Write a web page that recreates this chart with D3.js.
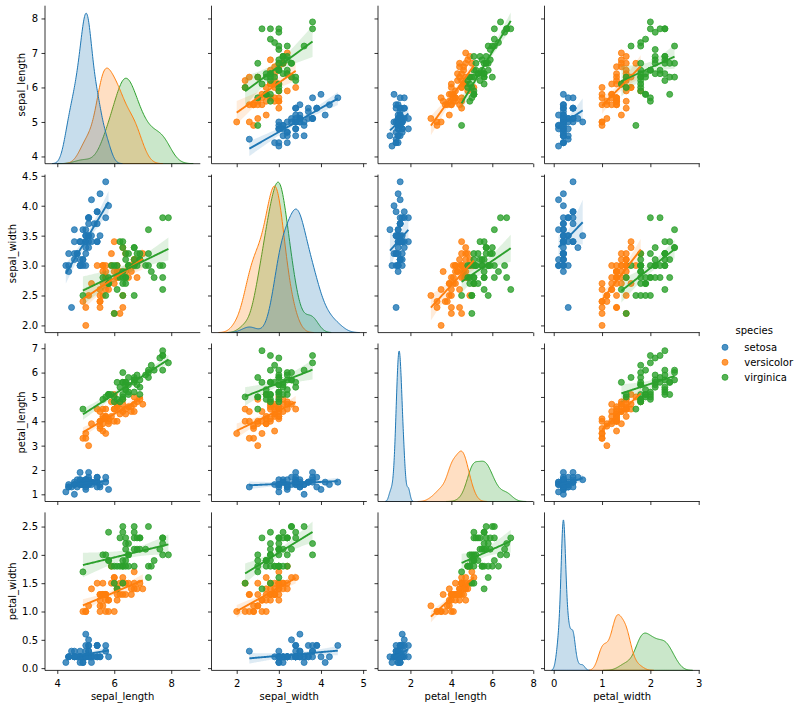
<!DOCTYPE html>
<html><head><meta charset="utf-8">
<script src="https://cdn.jsdelivr.net/npm/d3@7"></script>
<style>body{margin:0;background:#fff}svg{display:block}text{font-family:"DejaVu Sans",sans-serif;fill:#000}</style>
</head><body><svg id="c" width="801" height="709"></svg>
<script>
const variables = ["sepal_length","sepal_width","petal_length","petal_width"];
const speciesNames = ["setosa","versicolor","virginica"];
const speciesCounts = [50,50,50];
const palette = ["#1f77b4","#ff7f0e","#2ca02c"];

const sepal_length = [5.1,4.9,4.7,4.6,5.0,5.4,4.6,5.0,4.4,4.9,5.4,4.8,4.8,4.3,5.8,5.7,5.4,5.1,5.7,5.1,5.4,5.1,4.6,5.1,4.8,5.0,5.0,5.2,5.2,4.7,4.8,5.4,5.2,5.5,4.9,5.0,5.5,4.9,4.4,5.1,5.0,4.5,4.4,5.0,5.1,4.8,5.1,4.6,5.3,5.0,
7.0,6.4,6.9,5.5,6.5,5.7,6.3,4.9,6.6,5.2,5.0,5.9,6.0,6.1,5.6,6.7,5.6,5.8,6.2,5.6,5.9,6.1,6.3,6.1,6.4,6.6,6.8,6.7,6.0,5.7,5.5,5.5,5.8,6.0,5.4,6.0,6.7,6.3,5.6,5.5,5.5,6.1,5.8,5.0,5.6,5.7,5.7,6.2,5.1,5.7,
6.3,5.8,7.1,6.3,6.5,7.6,4.9,7.3,6.7,7.2,6.5,6.4,6.8,5.7,5.8,6.4,6.5,7.7,7.7,6.0,6.9,5.6,7.7,6.3,6.7,7.2,6.2,6.1,6.4,7.2,7.4,7.9,6.4,6.3,6.1,7.7,6.3,6.4,6.0,6.9,6.7,6.9,5.8,6.8,6.7,6.7,6.3,6.5,6.2,5.9];
const sepal_width = [3.5,3.0,3.2,3.1,3.6,3.9,3.4,3.4,2.9,3.1,3.7,3.4,3.0,3.0,4.0,4.4,3.9,3.5,3.8,3.8,3.4,3.7,3.6,3.3,3.4,3.0,3.4,3.5,3.4,3.2,3.1,3.4,4.1,4.2,3.1,3.2,3.5,3.6,3.0,3.4,3.5,2.3,3.2,3.5,3.8,3.0,3.8,3.2,3.7,3.3,
3.2,3.2,3.1,2.3,2.8,2.8,3.3,2.4,2.9,2.7,2.0,3.0,2.2,2.9,2.9,3.1,3.0,2.7,2.2,2.5,3.2,2.8,2.5,2.8,2.9,3.0,2.8,3.0,2.9,2.6,2.4,2.4,2.7,2.7,3.0,3.4,3.1,2.3,3.0,2.5,2.6,3.0,2.6,2.3,2.7,3.0,2.9,2.9,2.5,2.8,
3.3,2.7,3.0,2.9,3.0,3.0,2.5,2.9,2.5,3.6,3.2,2.7,3.0,2.5,2.8,3.2,3.0,3.8,2.6,2.2,3.2,2.8,2.8,2.7,3.3,3.2,2.8,3.0,2.8,3.0,2.8,3.8,2.8,2.8,2.6,3.0,3.4,3.1,3.0,3.1,3.1,3.1,2.7,3.2,3.3,3.0,2.5,3.0,3.4,3.0];
const petal_length = [1.4,1.4,1.3,1.5,1.4,1.7,1.4,1.5,1.4,1.5,1.5,1.6,1.4,1.1,1.2,1.5,1.3,1.4,1.7,1.5,1.7,1.5,1.0,1.7,1.9,1.6,1.6,1.5,1.4,1.6,1.6,1.5,1.5,1.4,1.5,1.2,1.3,1.4,1.3,1.5,1.3,1.3,1.3,1.6,1.9,1.4,1.6,1.4,1.5,1.4,
4.7,4.5,4.9,4.0,4.6,4.5,4.7,3.3,4.6,3.9,3.5,4.2,4.0,4.7,3.6,4.4,4.5,4.1,4.5,3.9,4.8,4.0,4.9,4.7,4.3,4.4,4.8,5.0,4.5,3.5,3.8,3.7,3.9,5.1,4.5,4.5,4.7,4.4,4.1,4.0,4.4,4.6,4.0,3.3,4.2,4.2,4.2,4.3,3.0,4.1,
6.0,5.1,5.9,5.6,5.8,6.6,4.5,6.3,5.8,6.1,5.1,5.3,5.5,5.0,5.1,5.3,5.5,6.7,6.9,5.0,5.7,4.9,6.7,4.9,5.7,6.0,4.8,4.9,5.6,5.8,6.1,6.4,5.6,5.1,5.6,6.1,5.6,5.5,4.8,5.4,5.6,5.1,5.1,5.9,5.7,5.2,5.0,5.2,5.4,5.1];
const petal_width = [0.2,0.2,0.2,0.2,0.2,0.4,0.3,0.2,0.2,0.1,0.2,0.2,0.1,0.1,0.2,0.4,0.4,0.3,0.3,0.3,0.2,0.4,0.2,0.5,0.2,0.2,0.4,0.2,0.2,0.2,0.2,0.4,0.1,0.2,0.2,0.2,0.2,0.1,0.2,0.2,0.3,0.3,0.2,0.6,0.4,0.3,0.2,0.2,0.2,0.2,
1.4,1.5,1.5,1.3,1.5,1.3,1.6,1.0,1.3,1.4,1.0,1.5,1.0,1.4,1.3,1.4,1.5,1.0,1.5,1.1,1.8,1.3,1.5,1.2,1.3,1.4,1.4,1.7,1.5,1.0,1.1,1.0,1.2,1.6,1.5,1.6,1.5,1.3,1.3,1.3,1.2,1.4,1.2,1.0,1.3,1.2,1.3,1.3,1.1,1.3,
2.5,1.9,2.1,1.8,2.2,2.1,1.7,1.8,1.8,2.5,2.0,1.9,2.1,2.0,2.4,2.3,1.8,2.2,2.3,1.5,2.3,2.0,2.0,1.8,2.1,1.8,1.8,1.8,2.1,1.6,1.9,2.0,2.2,1.5,1.4,2.3,2.4,1.8,1.8,2.1,2.4,2.3,1.9,2.3,2.5,2.3,1.9,2.0,2.3,1.8];

const xTicks = [[4,6,8],[2,3,4,5],[2,4,6,8],[0,1,2,3]];
const yTicks = [[4,5,6,7,8],[2.0,2.5,3.0,3.5,4.0,4.5],[1,2,3,4,5,6,7],[0.0,0.5,1.0,1.5,2.0,2.5]];
const yTickFormats = ["d",".1f","d",".1f"];
const rowDomains = [[3.79,8.37],[1.88,4.52],[0.705,7.195],[-0.04,2.75]];

const columns = [sepal_length, sepal_width, petal_length, petal_width];
const species = [];
speciesCounts.forEach((c,k)=>{for(let i=0;i<c;i++) species.push(k);});
const N = species.length;

// layout
const colLeft = j => 45 + j*166.5, cellW = 155.3;
const rowTop = i => 5.7 + i*168.9, cellH = 158;

const svg = d3.select("#c");

function groupVals(v,k){ return columns[v].filter((_,i)=>species[i]===k); }

function kde(vals){
  const n = vals.length, sd = d3.deviation(vals);
  const bw = sd*Math.pow(n,-0.2);
  const lo = d3.min(vals)-3*bw, hi = d3.max(vals)+3*bw;
  const pts = [];
  for(let g=0; g<200; g++){
    const x = lo+(hi-lo)*g/199; let s=0;
    for(const v of vals){const z=(x-v)/bw; s+=Math.exp(-0.5*z*z);}
    pts.push([x, (n/N)*s/(n*bw*Math.sqrt(2*Math.PI))]);
  }
  return {pts, lo, hi};
}

const kdes = variables.map((_,v)=>speciesNames.map((_,k)=>kde(groupVals(v,k))));
const xScales = variables.map((_,v)=>{
  const lo = d3.min(kdes[v],d=>d.lo), hi = d3.max(kdes[v],d=>d.hi), p=(hi-lo)*0.05;
  return d3.scaleLinear().domain([lo-p,hi+p]).range([colLeft(v), colLeft(v)+cellW]);
});
const yScales = variables.map((_,v)=>d3.scaleLinear().domain(rowDomains[v]).range([rowTop(v)+cellH, rowTop(v)]));

function regression(xs, ys){
  const n=xs.length, xb=d3.mean(xs), yb=d3.mean(ys);
  let sxx=0,sxy=0; xs.forEach((x,i)=>{sxx+=(x-xb)**2; sxy+=(x-xb)*(ys[i]-yb);});
  const b=sxy/sxx, a=yb-b*xb;
  let sse=0; xs.forEach((x,i)=>{sse+=(ys[i]-a-b*x)**2;});
  const s=Math.sqrt(sse/(n-2)), t=2.0106;
  const lo=d3.min(xs), hi=d3.max(xs), out=[];
  for(let g=0; g<100; g++){
    const x=lo+(hi-lo)*g/99, y=a+b*x, se=s*Math.sqrt(1/n+(x-xb)**2/sxx);
    out.push({x, y, y0:y-t*se, y1:y+t*se});
  }
  return out;
}

const defs = svg.append("defs");
const yTickLabelWidth = [0,0,0,0];

for(let i=0;i<4;i++){
  for(let j=0;j<4;j++){
    const xs = xScales[j], ys = yScales[i];
    const g = svg.append("g");
    const cid = `clip${i}${j}`;
    defs.append("clipPath").attr("id",cid).append("rect")
      .attr("x",colLeft(j)).attr("y",rowTop(i)).attr("width",cellW).attr("height",cellH);
    const plot = g.append("g").attr("clip-path",`url(#${cid})`);
    if(i===j){
      const maxD = d3.max(kdes[j], d=>d3.max(d.pts,p=>p[1]));
      const dy = d3.scaleLinear().domain([0,maxD*1.05]).range([rowTop(i)+cellH, rowTop(i)]);
      const area = d3.area().x(p=>xs(p[0])).y0(dy(0)).y1(p=>dy(p[1]));
      for(let k=2;k>=0;k--){
        plot.append("path").attr("d",area(kdes[j][k].pts)+"Z")
          .attr("fill",palette[k]).attr("fill-opacity",0.25)
          .attr("stroke",palette[k]).attr("stroke-width",1).attr("stroke-linejoin","round");
      }
    } else {
      const regs=[];
      for(let k=0;k<3;k++){
        const gx = groupVals(j,k), gy = groupVals(i,k);
        plot.append("g").selectAll("circle").data(gx.map((x,n)=>[x,gy[n]])).join("circle")
          .attr("cx",d=>xs(d[0])).attr("cy",d=>ys(d[1])).attr("r",3)
          .attr("fill",palette[k]).attr("fill-opacity",0.8)
          .attr("stroke",palette[k]).attr("stroke-opacity",0.8).attr("stroke-width",1);
        const r = regression(gx, gy); regs.push(r);
        plot.append("path").attr("d", d3.area().x(d=>xs(d.x)).y0(d=>ys(d.y0)).y1(d=>ys(d.y1))(r))
          .attr("fill",palette[k]).attr("fill-opacity",0.15).attr("stroke","none");
      }
      regs.forEach((r,k)=>{
        plot.append("path").attr("d", d3.line().x(d=>xs(d.x)).y(d=>ys(d.y))(r))
          .attr("fill","none").attr("stroke",palette[k]).attr("stroke-width",1.9);
      });
    }
    const xAxis = d3.axisBottom(xs).tickValues(xTicks[j]).tickSizeOuter(0).tickSizeInner(3.5).tickPadding(3.5)
      .tickFormat(i===3 ? d3.format("d") : "");
    const ax = g.append("g").attr("transform",`translate(0,${rowTop(i)+cellH})`).call(xAxis);
    const yAxis = d3.axisLeft(ys).tickValues(yTicks[i]).tickSizeOuter(0).tickSizeInner(3.5).tickPadding(3.5)
      .tickFormat(j===0 ? d3.format(yTickFormats[i]) : "");
    const ay = g.append("g").attr("transform",`translate(${colLeft(j)},0)`).call(yAxis);
    [ax,ay].forEach(a=>{
      a.select(".domain").attr("stroke","#000").attr("stroke-width",0.8);
      a.selectAll(".tick line").attr("stroke","#000").attr("stroke-width",0.8);
      a.selectAll(".tick text").attr("font-size",10).attr("font-family","DejaVu Sans").attr("fill","#000");
    });
    ax.select(".domain").attr("d",`M${colLeft(j)},0H${colLeft(j)+cellW}`);
    ay.select(".domain").attr("d",`M0,${rowTop(i)}V${rowTop(i)+cellH}`);
    ax.selectAll(".tick text").attr("dy",null).attr("y",16.2).attr("dominant-baseline","auto");
    ay.selectAll(".tick text").attr("dy","0.34em");
    if(j===0){
      ay.selectAll(".tick text").each(function(){
        yTickLabelWidth[i] = Math.max(yTickLabelWidth[i], this.getComputedTextLength());
      });
    }
  }
}

// axis labels
variables.forEach((v,k)=>{
  svg.append("text").attr("x",colLeft(k)+cellW/2).attr("y",699.5).attr("text-anchor","middle")
    .attr("font-size",10).text(v);
  const bx = colLeft(0) - 7 - yTickLabelWidth[k] - 4 - 2.4;
  svg.append("text").attr("transform",`translate(${bx},${rowTop(k)+cellH/2}) rotate(-90)`)
    .attr("text-anchor","middle").attr("font-size",10).text(v);
});

// legend
const lg = svg.append("g");
lg.append("text").attr("x",754.2).attr("y",333.8).attr("text-anchor","middle").attr("font-size",10).text("species");
speciesNames.forEach((s,k)=>{
  const cy = 347.3 + k*15;
  lg.append("circle").attr("cx",725).attr("cy",cy).attr("r",3)
    .attr("fill",palette[k]).attr("fill-opacity",0.8).attr("stroke",palette[k]).attr("stroke-opacity",0.8).attr("stroke-width",1);
  lg.append("text").attr("x",744.3).attr("y",cy+3.4).attr("font-size",10).text(s);
});
</script></body></html>
